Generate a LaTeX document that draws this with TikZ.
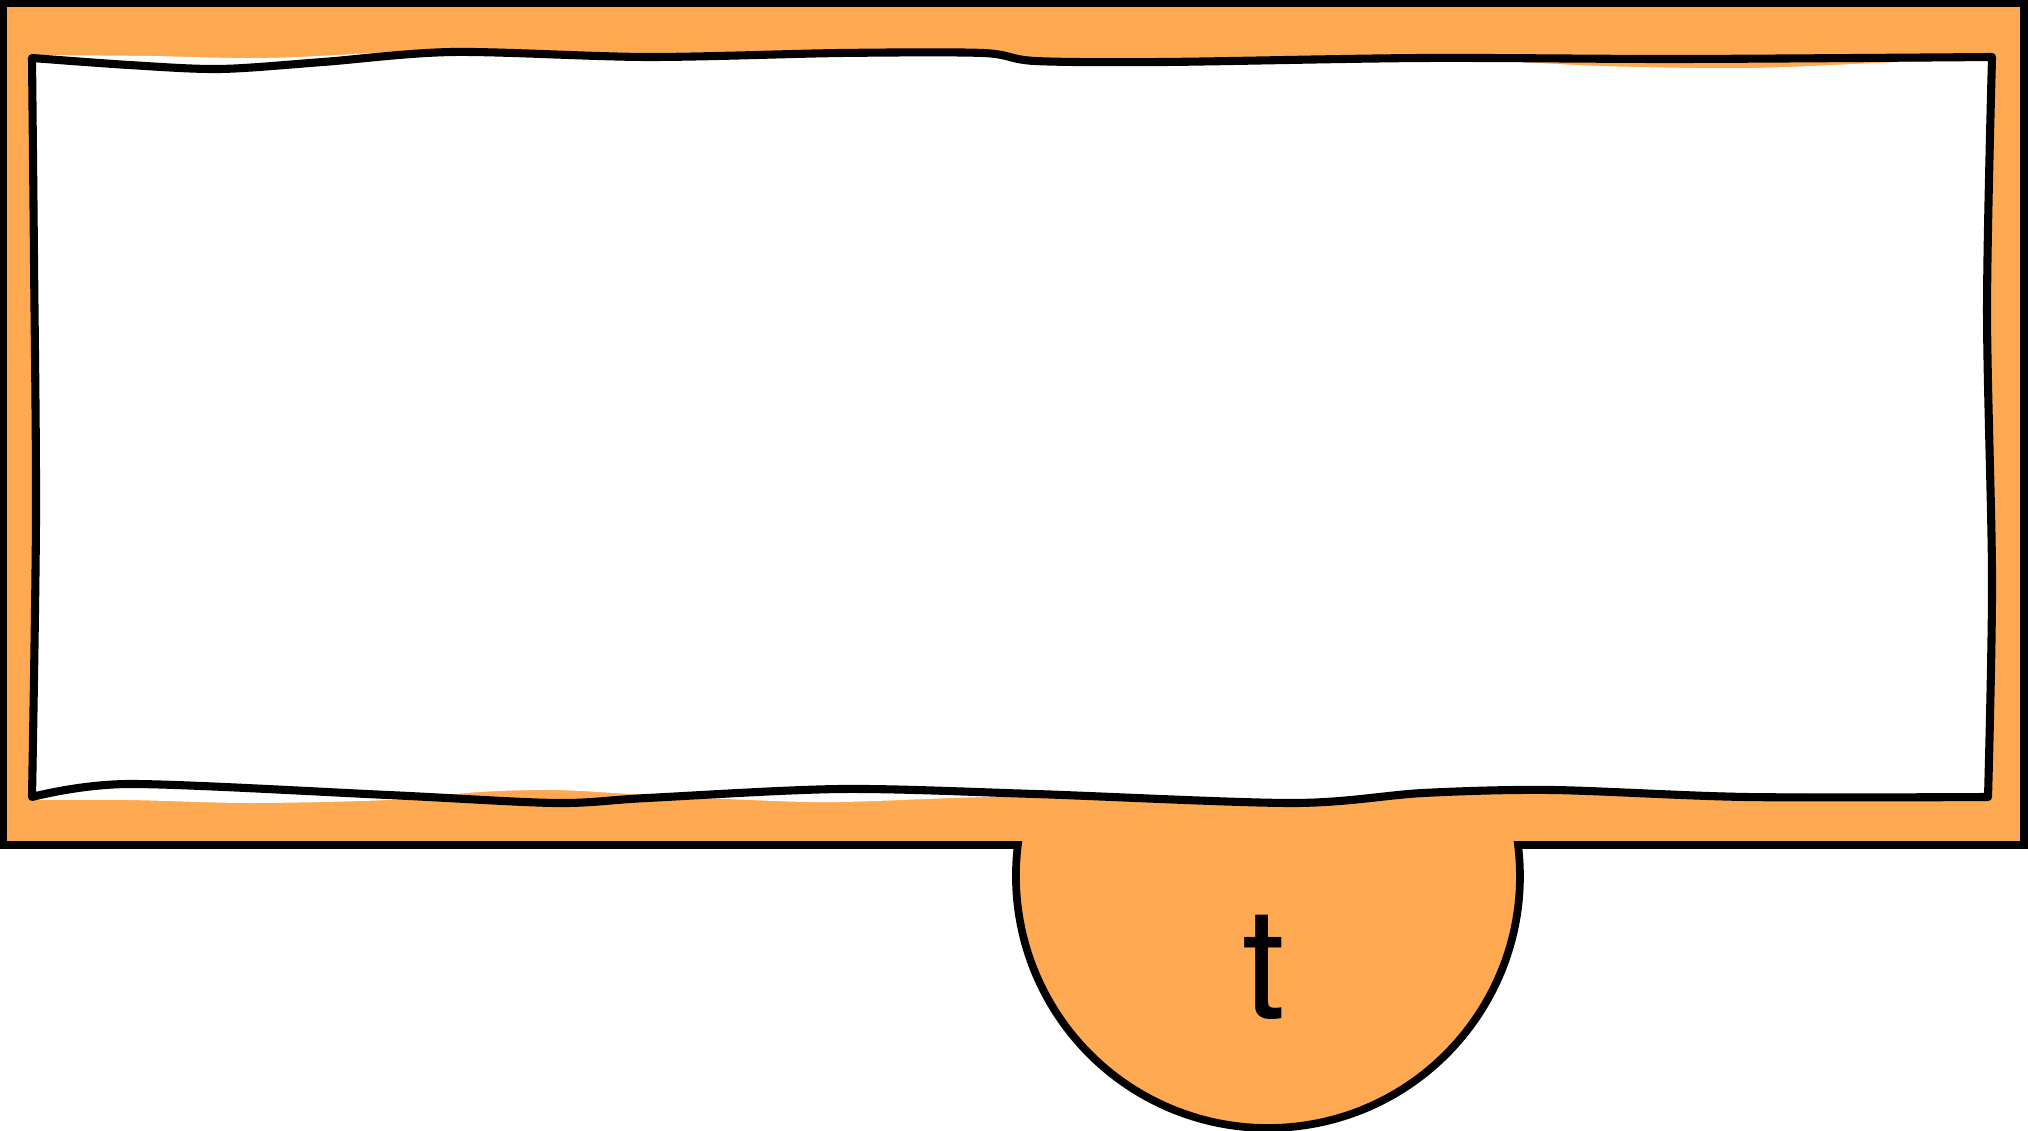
\documentclass[tikz,border=0pt]{standalone}
\usepackage{fontspec}
\setmainfont{TeX Gyre Heros}
\definecolor{tabfill}{HTML}{FFA953}
\tikzset{
  outline/.style={draw=black,line width=2.2pt,line join=miter},
  wobbly/.style={draw=black,line width=2.3pt,line join=round}
}
\begin{document}
\begin{tikzpicture}[x=0.01cm,y=-0.01cm]
\useasboundingbox (0,0) rectangle (2028,1131);
% frame with the round tab
\draw[outline,fill=tabfill] (3,3) -- (2024,3) -- (2024,845) -- (1518,845)
  arc[start angle=-7.07,end angle=187.07,radius=252] -- (3,845) -- cycle;
% white sheet, filled a little off the stroke
\fill[white] plot[smooth] coordinates {(32,55) (150,56) (270,58) (450,50) (647,53) (841,50) (983,52) (1035,58) (1164,60) (1423,58) (1600,66) (1750,68) (1900,62) (1992,60)}
  -- plot[smooth] coordinates {(1992,60) (1990,300) (1994,580) (1990,795)}
  -- plot[smooth] coordinates {(1990,795) (1746,793) (1552,787) (1423,790) (1293,800) (1035,796) (841,802) (750,800) (647,795) (556,790) (480,792) (388,800) (250,803) (129,800) (36,800)}
  -- plot[smooth] coordinates {(36,800) (38,520) (36,260) (32,55)} -- cycle;
\draw[wobbly] plot[smooth] coordinates {(32,58) (129,65) (220,69) (323,62) (453,52) (647,57) (841,53) (983,53) (1035,61) (1164,62) (1423,58) (1681,59) (1992,57)}
  -- plot[smooth] coordinates {(1992,57) (1987,310) (1992,580) (1988,797)}
  -- plot[smooth] coordinates {(1988,797) (1746,797) (1552,790) (1423,793) (1293,803) (1035,794) (841,789) (647,798) (556,803) (388,795) (129,784) (32,797)}
  -- plot[smooth] coordinates {(32,797) (36,517) (34,259) (32,58)} -- cycle;
\node[anchor=base,inner sep=0pt,font=\fontsize{44}{53}\selectfont] (tablabel) at (1264,1018) {t};
\end{tikzpicture}
\end{document}
